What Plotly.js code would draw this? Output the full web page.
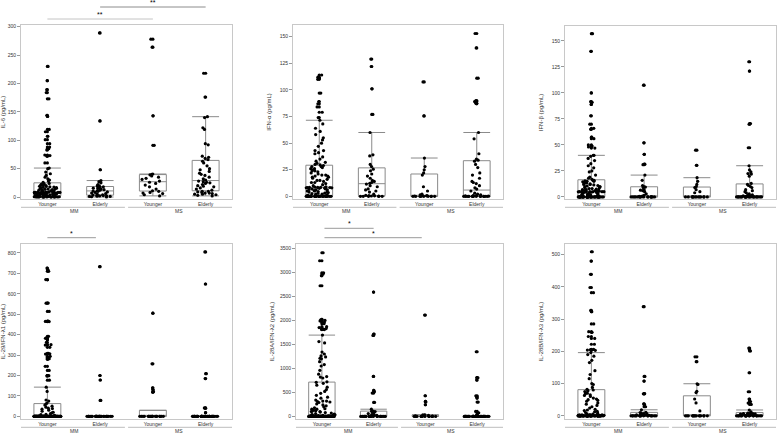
<!DOCTYPE html>
<html><head><meta charset="utf-8">
<script src="https://cdn.plot.ly/plotly-3.0.1.min.js"></script>
<style>html,body{margin:0;padding:0;background:#fff}#chart{width:779px;height:441px}</style>
</head><body><div id="chart"></div>
<script>
// ---------- categories / labels ----------
const groups = ['MM Younger', 'MM Elderly', 'MS Younger', 'MS Elderly'];
const tickLabels = ['Younger', 'Elderly', 'Younger', 'Elderly'];
const cohortLabels = ['MM', 'MS'];
const panelTitles = ['IL-6 (pg/mL)', 'IFN-α (pg/mL)', 'IFN-β (pg/mL)',
  'IL-29/IFN-λ1 (pg/mL)', 'IL-28A/IFN-λ2 (pg/mL)', 'IL-28B/IFN-λ3 (pg/mL)'];

// ---------- IL-6 ----------
const il6_mmYounger = [0,0,0,0,0,0,0,0,0,0,0,0,0.5,0.5,0.5,0.5,0.5,1,1,1,1,1,1,1.5,1.5,1.5,2,2,2,
  2.5,3,3,3.5,4,4,4.5,5,5,5,5.5,6,6,6,6.5,7,7,7,7.5,7.5,7.5,7.8,8,8,8,8,8,8,8,
  8.5,9,9.5,10,10.5,11,11,12,12.5,13,13.5,14,14.5,15,15.5,16,16.5,17,17.5,18,18.5,19,20,20.5,21,22,22.5,23,24,
  26,28,30,32,35,38,41,44,50,51,
  60,72,73,74,83,85,88,94,101,107,115,119,142,144,173,184,189,205,230];
const il6_mmElderly = [0,0.5,1,1,1.5,2,2,2.5,3,3.5,4,5,6,7,8,9,10,10.5,11,12,13,14,15,15.5,16,17,18,19,20,22,25,27,29,48,134,289];
const il6_msYounger = [2,4,6,7,8,10,11,14,18,21,24,26,28,31,33,35,37,39,40,40.5,91,143,264,278];
const il6_msElderly = [2,3,4,5,5,6,7,7,8,9,10,10,12,14,16,18,19,20,22,24,25,26,27,28,30,32,35,38,40,42,45,48,50,55,60,63,66,68,70,72,92,94,119,122,140,141.5,176,218];

// ---------- IFN-alpha ----------
const ifna_mmYounger = [0,0,0,0,0,0,0,0,0,0,0,0,0,0,0,0,0,0,0,0,0,0,0.1,0.1,0.2,0.2,0.3,0.3,0.4,0.4,
  0.6,1,1.5,2,2,2.5,3,3,3.5,4,4,4.5,5,5,5.5,6,6,6.5,7,7,7.5,7.5,8,8,8,8.2,8.3,8.4,8.4,8.4,
  8.6,9,10,11,12,13,13,14,15,15,16,17,18,18,19,19,20,20,21,22,23,24,24,25,26,26,27,28,28,29,
  29.5,30,31,32,33,35,37,40,41,43,43,47,50,53,55,58,61,64,68,71.5,
  74,79,84,87,89,97,110,111,112,114];
const ifna_mmElderly = [0,0,0,0,0,0.2,0.3,0.5,0.6,1,2,4,5,6,7,9,10,11.5,12.3,13,14,15,17,19,21,24,25.5,28,30,38,39,60,77,101,122,129];
const ifna_msYounger = [0,0,0,0,0,0,0,0,0,0.3,0.5,0.6,0.7,1.5,2,5,9,20,22,25,28,36,75.6,107.5];
const ifna_msElderly = [0,0,0,0,0,0,0,0,0,0,0,0,0,0,0,0.2,0.3,0.5,0.8,1,1.5,2,3,5,
  6.8,8,10,12,13,14,17,20,22,27,30,33,34,35,40,54,60,87,87.5,89,90,111,139.5,153];

// ---------- IFN-beta ----------
const ifnb_mmYounger = [0,0,0,0,0,0,0,0,0,0,0,0,0,0,0,0,0,0,0,0,0,0,0,0,0,0,0,0,0,0,0,0,0,0,0,0,
  0.5,0.8,1,1.2,1.5,2,2.2,2.5,3,3.2,3.5,4,4.2,4.5,4.6,4.8,4.9,5,5,5,5,5,5,5,
  5.2,5.5,6,6,6.5,7,7,7.5,8,8,8.5,9,9.5,10,10,10.5,11,11.5,12,12,12.5,13,13.5,14,14.5,15,15,15.5,16,16,
  17,18,19,21,24,25,28,30,32,35,37,39,40,40,
  47,48,49,50,56,57.5,65,66,70,78,89,91,91.8,100,140,157];
const ifnb_mmElderly = [0,0,0,0,0,0,0,0,0,0,0,0,0,0,0,0,0.3,0.5,0.8,1.5,3,5,6,6.5,7,9,9.5,10,11,16,21,31,31.5,41,52,107.5];
const ifnb_msYounger = [0,0,0,0,0,0,0,0,0,0,0,0,0,0,4,5,7,9,10,12,15,18.5,30.4,45];
const ifnb_msElderly = [0,0,0,0,0,0,0,0,0,0,0,0,0,0,0,0,0,0,0,0,0,0,0.5,1,
  1.5,2,2,3,4,5,6,7,9,10,11,12,13,20,22,22.5,24,26,30,47.3,70,70.5,121,130];

// ---------- IL-29 / IFN-lambda1 ----------
const il29_mmYounger = [0,0,0,0,0,0,0,0,0,0,0,0,0,0,0,0,0,0,0,0,0,0,0,0,
  0,0,0,0,0,0,0,0,0,0,0,0,0,0,0,0,0,0,0,0,0,0,0,0,
  0,0,0,0,0,0,0,0,0,0,0,0,0,0,0,0,0,0,0,0,0,0,0,0,
  0,0,0,0,0,0,0,0,0,0,0,0,0,0,0,0,0,0,0,0,0,0,0,0,
  1,2,3,5,8,10,13,17,20,25,30,35,38,40,45,50,55,60,
  65,75,80,122,143,
  177,198,199,200,225,245,280,282,283,289,294,305,306,308,338,349,351,362,375,382,384,392,464,465,466,514,554,555,669,670,710,718,726];
const il29_mmElderly = [0,0,0,0,0,0,0,0,0,0,0,0,0,0,0,0,0,0,0,0,0,0,0,0,0,0,0,0,0,0,0,0,78,178,200,733];
const il29_msYounger = [0,0,0,0,0,0,0,0,0,0,0,0,0,0,0,0,0,0,0,118,122,131,140,257,505];
const il29_msElderly = [0,0,0,0,0,0,0,0,0,0,0,0,0,0,0,0,0,0,0,0,0,0,0,0,0,0,0,0,0,0,0,0,0,0,0,0,0,0,0,0,0,
  18,40,41,185,209,648,805];

// ---------- IL-28A / IFN-lambda2 ----------
const il28a_mmYounger = [0,0,0,0,0,0,0,0,0,0,0,0,0,0,0,0,0,0,0,0,0,0,
  0,0,0,0,0,0,0,0,0,0,0,0,0,0,0,0,0,0,0,0,0,0,
  0,0,0,0,0,0,0,0,0,0,0,0,0,0,0,0,0,0,0,0,0,0,
  5,10,15,20,25,30,
  35,40,50,60,70,80,90,100,100,110,120,130,150,150,160,180,200,220,240,260,290,300,310,320,320,340,380,400,440,480,520,560,610,650,690,710,
  720,800,820,830,880,960,1050,1080,1140,1200,1210,1240,1260,1300,1340,1530,1560,1694,
  1810,1812,1815,1830,1850,1870,1930,1960,1990,2000,2010,2020,2722,2930,2965,2993,3243,3410];
const il28a_mmElderly = [0,0,0,0,0,0,0,0,0,0,0,0,0,0,0,0,0,0,0,10,20,30,40,60,70,90,100,105,110,150,292,486,514,541,833,1688,1715,2590];
const il28a_msYounger = [0,0,0,0,0,0,0,0,0,0,0,0,5,10,15,20,25,30,35,243,300,312,430,2111];
const il28a_msElderly = [0,0,0,0,0,0,0,0,0,0,0,0,0,0,0,0,0,0,0,0,0,0,0,0,0,0,0,0,0,0,0,0,0,0,0,0,0,
  40,75,104,299,382,410,430,757,805,808,1347];

// ---------- IL-28B / IFN-lambda3 ----------
const il28b_mmYounger = [0,0,0,0,0,0,0,0,0,0,0,0,0,0,0,0,0,0,0,0,0,0,0,0,0,0,
  0,0,0,0,0,0,0,0,0,0,0,0,0,0,0,0,0,0,0,0,0,0,0,0,0,
  0.5,1,1.5,2,2.5,3,3,
  4,5,6,8,10,12,14,16,18,20,24,28,32,36,40,45,48,50,52,55,60,63,65,68,70,72,75,78,80,
  82,88,97,100,115,128,140,165,172,185,190,196,
  203,204,205,206,222,240,246,259,261,285,323,327,382,398,439,480,509];
const il28b_mmElderly = [0,0,0,0,0,0,0,0,0,0,0,0,0,0,0,0,0,0,0.5,1,1.5,2,2.5,3,4,5,6,7,8,10,11,18.6,28,34,37,68,68.5,107.7,122,338.5];
const il28b_msYounger = [0,0,0,0,0,0,0,0,0,0,0,0,0,0,0,15,40,52,72,76,97,99.4,168,183];
const il28b_msElderly = [0,0,0,0,0,0,0,0,0,0,0,0,0,0,0,0,0,0,0,0,1,1.5,2,3,
  3.5,4,4.5,5,5,5.5,6,6.5,7,7,7.5,8,12,18,35.2,39.3,44,44.5,51.8,74.5,133.5,201,205,210];

const panelData = [
  [il6_mmYounger, il6_mmElderly, il6_msYounger, il6_msElderly],
  [ifna_mmYounger, ifna_mmElderly, ifna_msYounger, ifna_msElderly],
  [ifnb_mmYounger, ifnb_mmElderly, ifnb_msYounger, ifnb_msElderly],
  [il29_mmYounger, il29_mmElderly, il29_msYounger, il29_msElderly],
  [il28a_mmYounger, il28a_mmElderly, il28a_msYounger, il28a_msElderly],
  [il28b_mmYounger, il28b_mmElderly, il28b_msYounger, il28b_msElderly]
];
const panelRanges = [[-3.5, 303], [-2.5, 161], [-2, 164.4], [-13, 844], [-54, 3592], [-10, 533]];
const panelDticks = [50, 25, 25, 100, 500, 100];

// significance comparisons
const sigPanel = [0, 0, 3, 4, 4];
const sigFrom = [0, 1, 0, 0.05, 0.05];
const sigTo = [2, 3, 0.92, 1, 1.93];
const sigLabel = ['**', '**', '*', '*', '*'];

// ---------- layout geometry (pixels) ----------
const W = 779, H = 441;
const boxPx = [
  {x: [21, 232], y: [25, 199]},
  {x: [293, 503], y: [25, 199]},
  {x: [565, 776], y: [26, 199]},
  {x: [21, 232], y: [244, 419]},
  {x: [296, 503], y: [244, 419]},
  {x: [565, 776], y: [244, 419]}
];
const sigYpx = [19, 7, 237.7, 228.3, 237.7];
const sigColor = ['#c4c4c4', '#8c8c8c', '#9a9a9a', '#9a9a9a', '#9a9a9a'];

const FONT = 'Liberation Sans, Arial, sans-serif';
const py = p => 1 - p / H;

const traces = [];
const layout = {
  width: W, height: H,
  margin: {l: 0, r: 0, t: 0, b: 0},
  paper_bgcolor: '#fff', plot_bgcolor: '#fff',
  showlegend: false,
  font: {family: FONT, size: 5, color: '#333'},
  shapes: [], annotations: []
};

panelData.forEach((groupsData, p) => {
  const k = p + 1;
  const xa = 'x' + (k === 1 ? '' : k), ya = 'y' + (k === 1 ? '' : k);
  const bp = boxPx[p];
  groupsData.forEach((vals, g) => {
    const xs = vals.map(() => groups[g]);
    // box with outliers at the centre
    traces.push({
      type: 'box', x: xs, y: vals, xaxis: xa, yaxis: ya,
      width: 0.51, whiskerwidth: 1,
      boxpoints: 'outliers', jitter: 0, pointpos: 0,
      line: {color: '#8a8a8a', width: 1},
      fillcolor: 'rgba(255,255,255,0)',
      marker: {color: '#000', size: 3.2, line: {width: 0}},
      hoverinfo: 'skip'
    });
    // every observation, jittered
    traces.push({
      type: 'box', x: xs, y: vals, xaxis: xa, yaxis: ya,
      width: 0.51, whiskerwidth: 0,
      boxpoints: 'all', jitter: 1, pointpos: 0,
      line: {color: 'rgba(0,0,0,0)', width: 0},
      fillcolor: 'rgba(0,0,0,0)',
      marker: {color: '#000', size: 3.2, line: {width: 0}},
      hoverinfo: 'skip'
    });
  });
  layout['xaxis' + (k === 1 ? '' : k)] = {
    domain: [bp.x[0] / W, bp.x[1] / W], anchor: ya,
    type: 'category', categoryorder: 'array', categoryarray: groups,
    tickvals: groups, ticktext: tickLabels,
    range: [-0.5, 3.5], autorange: false,
    showline: true, mirror: true, linecolor: '#c8c8c8', linewidth: 1,
    ticks: '', showgrid: false, zeroline: false,
    tickfont: {family: FONT, size: 5, color: '#333'}
  };
  layout['yaxis' + (k === 1 ? '' : k)] = {
    domain: [py(bp.y[1]), py(bp.y[0])], anchor: xa,
    range: panelRanges[p], autorange: false, dtick: panelDticks[p], tick0: 0,
    showline: true, mirror: true, linecolor: '#c8c8c8', linewidth: 1,
    ticks: 'outside', ticklen: 3, tickcolor: '#999', tickwidth: 1,
    showgrid: false, zeroline: false,
    tickfont: {family: FONT, size: 5, color: '#333'},
    title: {text: panelTitles[p], font: {family: FONT, size: 6, color: '#333'}}
  };
  // cohort group lines + labels
  const lineY = py(bp.y[1] + 8.3);
  const labY = py(bp.y[1] + 12);
  [[-0.5, 1.47], [1.53, 3.5]].forEach((seg, c) => {
    layout.shapes.push({type: 'line', xref: xa, yref: 'paper', x0: seg[0], x1: seg[1], y0: lineY, y1: lineY,
      line: {color: '#bdbdbd', width: 1}});
    layout.annotations.push({xref: xa, yref: 'paper', x: c * 2 + 0.5, y: labY, text: cohortLabels[c],
      showarrow: false, xanchor: 'center', yanchor: 'middle', font: {family: FONT, size: 5, color: '#333'}});
  });
});

sigPanel.forEach((p, i) => {
  const k = p + 1;
  const xa = 'x' + (k === 1 ? '' : k);
  const yl = py(sigYpx[i]);
  layout.shapes.push({type: 'line', xref: xa, yref: 'paper', x0: sigFrom[i], x1: sigTo[i], y0: yl, y1: yl,
    line: {color: sigColor[i], width: 1}});
  layout.annotations.push({xref: xa, yref: 'paper', x: (sigFrom[i] + sigTo[i]) / 2, y: yl, text: sigLabel[i],
    showarrow: false, xanchor: 'center', yanchor: 'bottom', yshift: -1, font: {family: FONT, size: 7, color: '#000'}});
});

Plotly.newPlot('chart', traces, layout, {staticPlot: true, displayModeBar: false});
</script>
</body></html>
